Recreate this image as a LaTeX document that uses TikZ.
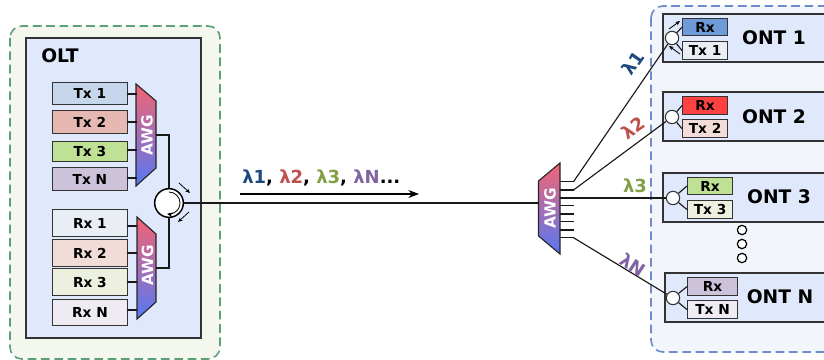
\documentclass[tikz,border=0pt]{standalone}
\usepackage{fontspec}
\setmainfont{DejaVu Sans}
\usetikzlibrary{arrows.meta,shadings}
\definecolor{lb}{RGB}{224,232,252}
\definecolor{lg}{RGB}{244,247,238}
\definecolor{lp}{RGB}{242,245,251}
\definecolor{dg}{RGB}{92,160,120}
\definecolor{db}{RGB}{110,140,205}
\definecolor{cA}{RGB}{198,215,236}
\definecolor{cB}{RGB}{229,184,178}
\definecolor{cC}{RGB}{190,225,150}
\definecolor{cD}{RGB}{204,194,218}
\definecolor{cE}{RGB}{233,238,245}
\definecolor{cF}{RGB}{242,220,216}
\definecolor{cG}{RGB}{235,241,222}
\definecolor{cH}{RGB}{238,235,242}
\definecolor{cI}{RGB}{110,155,215}
\definecolor{cJ}{RGB}{255,65,65}
\definecolor{lA}{RGB}{31,73,125}
\definecolor{lB}{RGB}{192,80,77}
\definecolor{lC}{RGB}{130,160,70}
\definecolor{lD}{RGB}{128,100,162}
\definecolor{awgT}{RGB}{243,100,115}
\definecolor{awgB}{RGB}{85,120,245}
\tikzset{
 x=0.75pt,y=-0.75pt,
 line/.style={draw=black!90,line width=0.85pt},
 box/.style={draw=black!80,line width=0.85pt,font=\bfseries\fontsize{10.3}{11}\selectfont,inner sep=0,anchor=north west},
 panel/.style={draw=black!80,line width=0.85pt,fill=lb},
 title/.style={font=\bfseries\fontsize{14}{16}\selectfont,inner sep=0},
 awgtext/.style={font=\bfseries\fontsize{11.5}{12}\selectfont,text=white,rotate=90,inner sep=0},
 dot/.style={circle,draw=black,fill=white,line width=0.9pt,inner sep=0,minimum size=7pt},
 ring/.style={circle,draw=black!80,fill=white,line width=0.8pt,inner sep=0,minimum size=10pt},
 lam/.style={font=\bfseries\fontsize{13.5}{15}\selectfont,inner sep=0},
 tick/.style={-{Stealth[length=3.5pt,width=3pt]},line width=0.6pt,black}
}
\begin{document}
\begin{tikzpicture}
\useasboundingbox (0,0) rectangle (824,360);
\fill[white] (0,0) rectangle (824,360);
% outer panels
\draw[draw=dg,fill=lg,dash pattern=on 6.5pt off 3.5pt,line width=1.2pt,rounded corners=9pt] (10,26) rectangle (220,359);
\draw[draw=db,fill=lp,dash pattern=on 6.5pt off 3.5pt,line width=1.2pt,rounded corners=9pt] (651,6) -- (651,352) -- (840,352) -- (840,6) -- cycle;
\path[panel] (26,38) rectangle (201,338);
\node[title,anchor=center] (olt) at (60,56) {OLT};
% Tx boxes
\foreach \n/\t/\yy/\h/\c in {t1/Tx 1/82/22/cA,t2/Tx 2/110/23/cB,t3/Tx 3/141/20/cC,tn/Tx N/167/23/cD,r1/Rx 1/209/27/cE,r2/Rx 2/239/27/cF,r3/Rx 3/268/27/cG,rn/Rx N/299/26/cH}{
 \node[box,fill=\c,minimum width=56pt,minimum height=\h*0.75pt] (\n) at (52,\yy) {\t};
}
% AWG shapes
\coordinate (a1) at (136,84); \coordinate (a2) at (156,101); \coordinate (a3) at (156,168); \coordinate (a4) at (136,186);
\coordinate (b1) at (137,217); \coordinate (b2) at (156,234); \coordinate (b3) at (156,302); \coordinate (b4) at (137,319);
\coordinate (c1) at (538.5,181); \coordinate (c2) at (560,163); \coordinate (c3) at (560,254); \coordinate (c4) at (538.5,236);
\foreach \p/\q/\r/\s/\nm/\cx/\cy in {a1/a2/a3/a4/awgA/147/135,b1/b2/b3/b4/awgB/147.5/265,c1/c2/c3/c4/awgC/550/208}{
 \path[draw=black!85,line width=0.85pt,top color=awgT,bottom color=awgB] (\p) -- (\q) -- (\r) -- (\s) -- cycle;
 \node[awgtext] (\nm) at (\cx,\cy) {AWG};
}
% port stubs OLT
\foreach \n/\yy in {t1/94,t2/122,t3/150,tn/178,r1/226,r2/253,r3/282,rn/310}{
 \coordinate (p\n) at (136.5,\yy);
 \draw[line] (127,\yy) -- (p\n);
}
% circulator
\coordinate (awgAout) at (156,135);
\coordinate (awgBout) at (156,268);
\node[circle,draw=black,fill=white,line width=1.1pt,inner sep=0,minimum size=21.5pt] (circ) at (169,203) {};
\draw[line] (awgAout) -| (circ.north);
\draw[line] (awgBout) -| (circ.south);
\draw[-{Stealth[length=4pt,width=3.5pt]},line width=0.6pt] (169,192) arc[start angle=-90,end angle=100,radius=11];
\coordinate (ca1) at (179,183); \coordinate (ca2) at (190,193);
\coordinate (ca3) at (189,212); \coordinate (ca4) at (178,222);
\draw[tick] (ca1) -- (ca2);
\draw[tick] (ca3) -- (ca4);
% trunk
\coordinate (cIn) at (538.5,203);
\draw[line] (circ.east) -- (cIn);
% wavelength label on trunk
\coordinate (w1) at (240,194); \coordinate (w2) at (419,194);
\draw[-{Stealth[length=8pt,width=6pt]},line width=0.85pt,black] (w1) -- (w2);
\node[lam,anchor=west] (wl) at (242,178) {\textcolor{lA}{λ1}, \textcolor{lB}{λ2}, \textcolor{lC}{λ3}, \textcolor{lD}{λN}...};
% ONT panels
\path[panel] (663,14) rectangle (840,62);
\path[panel] (663,92) rectangle (840,141);
\path[panel] (663,173) rectangle (840,222);
\path[panel] (665,273) rectangle (840,322);
\foreach \n/\t/\xx/\yy/\w/\h/\c in {
 ra/Rx/682/18/45/17/cI,
 ta/Tx 1/682/41/45/18/cE,
 rb/Rx/682/96/45/18/cJ,
 tb/Tx 2/682/119/45/18/cF,
 rc/Rx/687/177/45/17/cC,
 tc/Tx 3/687/200/45/18/cG,
 rd/Rx/687/277/50/18/cD,
 td/Tx N/687/300/50/18/cH}{
 \node[box,fill=\c,minimum width=\w*0.75pt,minimum height=\h*0.75pt] (\n) at (\xx,\yy) {\t};
}
\node[title] (o1) at (774,38) {ONT 1};
\node[title] (o2) at (774,117) {ONT 2};
\node[title] (o3) at (779,197) {ONT 3};
\node[title] (o4) at (780,297) {ONT N};
% rings
\node[ring] (s1) at (672,38) {};
\node[ring] (s2) at (672,117) {};
\node[ring] (s3) at (673,198) {};
\node[ring] (s4) at (673,298) {};
\foreach \s/\r/\t in {s1/ra/ta,s2/rb/tb,s3/rc/tc,s4/rd/td}{
 \draw[line] (\s) -- (\r.west);
 \draw[line] (\s) -- (\t.west);
}
\draw[tick] (669,29) -- (680,21);
\draw[tick] (680,54) -- (669,46);
% AWG outputs
\foreach \yy/\e in {181.7/1,190/2,198/3,205.7/4,214/5,221.7/6,230/7,237.7/8}{
 \coordinate (q\e) at (560,\yy);
 \coordinate (k\e) at (573.5,\yy);
 \draw[line] (q\e) -- (k\e);
}
\draw[line] (k1) -- (s1);
\draw[line] (k2) -- (s2);
\draw[line] (k3) -- (s3);
\draw[line] (k8) -- (s4);
\node[lam,text=lA,rotate=55] (l1) at (633,63) {λ1};
\node[lam,text=lB,rotate=35] (l2) at (633,128) {λ2};
\node[lam,text=lC] (l3) at (635,186) {λ3};
\node[lam,text=lD,rotate=-33] (l4) at (633,265) {λN};
% dots
\node[dot] (d1) at (742,230) {};
\node[dot] (d2) at (742,244) {};
\node[dot] (d3) at (742,258) {};
\end{tikzpicture}
\end{document}
